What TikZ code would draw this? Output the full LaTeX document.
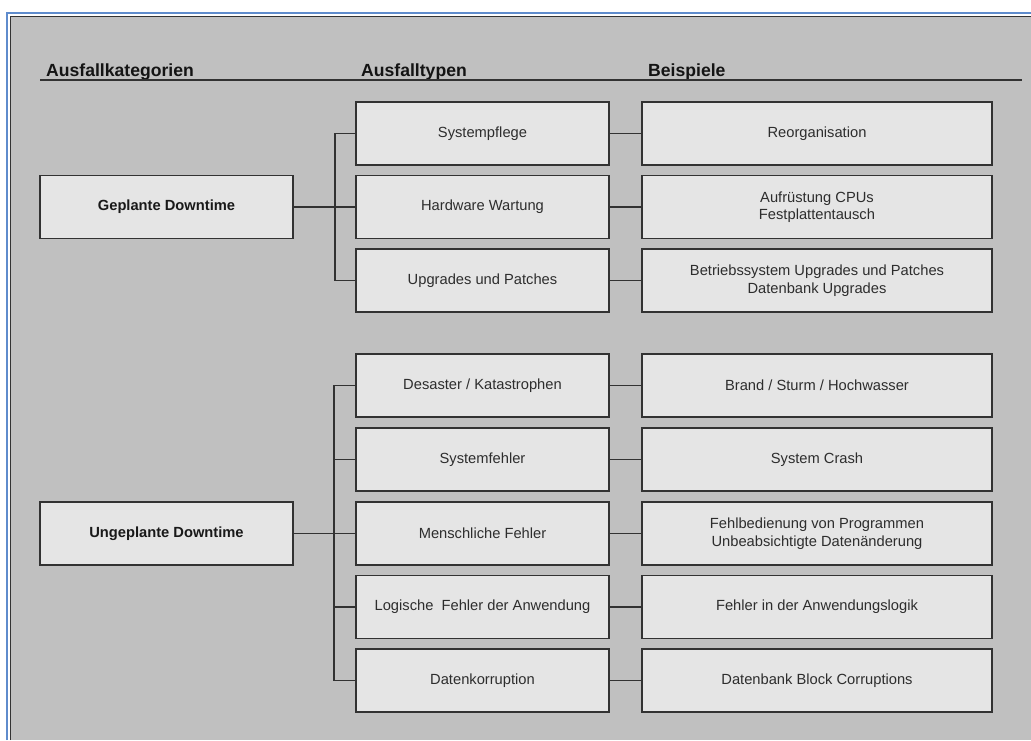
\documentclass[tikz,border=0pt]{standalone}
\usepackage{fontspec}
\setmainfont{Liberation Sans}
\definecolor{bg}{RGB}{192,192,192}
\definecolor{boxfill}{RGB}{229,229,229}
\definecolor{boxline}{RGB}{50,50,50}
\definecolor{txt}{RGB}{45,45,45}
\definecolor{frameblue}{RGB}{95,140,205}
\begin{document}
\begin{tikzpicture}[x=1pt,y=-1pt,
  boxbase/.style={draw=boxline,fill=boxfill,line width=1.3pt,rectangle,inner sep=0pt,
    minimum height=63pt,align=center,text=txt,font=\fontsize{14.7}{17.6}\selectfont},
  catbox/.style={boxbase,minimum width=253pt,font=\fontsize{14.7}{17.6}\selectfont\bfseries,text=black!90},
  typebox/.style={boxbase,minimum width=253pt},
  exbox/.style={boxbase,minimum width=350pt},
  head/.style={anchor=base west,inner sep=0pt,font=\fontsize{17.6}{20}\selectfont\bfseries,text=black!92},
  conn/.style={draw=boxline,line width=1.3pt}]
\useasboundingbox (0,0) rectangle (1031,740);
% frame
\fill[white] (0,0) rectangle (1031,740);
\fill[bg] (10,16) rectangle (1031,740);
\draw[frameblue,line width=1.6pt] (7,740) -- (7,13) -- (1031,13);
\draw[black!80,line width=1.2pt] (10.5,740) -- (10.5,16.5) -- (1031,16.5);
% headers
\node[head] (h1) at (46,76) {Ausfallkategorien};
\node[head] (h2) at (361,76) {Ausfalltypen};
\node[head] (h3) at (648,76) {Beispiele};
\draw[boxline,line width=1.4pt] (40,80) -- (1022,80);
% categories
\node[catbox] (g) at (166.5,207) {Geplante Downtime};
\node[catbox] (u) at (166.5,533.5) {Ungeplante Downtime};
% types
\node[typebox] (t1) at (482.5,133.5) {Systempflege};
\node[typebox] (t2) at (482.5,207) {Hardware Wartung};
\node[typebox] (t3) at (482.5,280.5) {Upgrades und Patches};
\node[typebox] (t4) at (482.5,385.5) {Desaster / Katastrophen};
\node[typebox] (t5) at (482.5,459.5) {Systemfehler};
\node[typebox] (t6) at (482.5,533.5) {Menschliche Fehler};
\node[typebox] (t7) at (482.5,607) {Logische\ \ Fehler der Anwendung};
\node[typebox] (t8) at (482.5,680.5) {Datenkorruption};
% examples
\node[exbox] (e1) at (817,133.5) {Reorganisation};
\node[exbox] (e2) at (817,207) {Aufrüstung CPUs\\Festplattentausch};
\node[exbox] (e3) at (817,280.5) {Betriebssystem Upgrades und Patches\\Datenbank Upgrades};
\node[exbox] (e4) at (817,385.5) {Brand / Sturm / Hochwasser};
\node[exbox] (e5) at (817,459.5) {System Crash};
\node[exbox] (e6) at (817,533.5) {Fehlbedienung von Programmen\\Unbeabsichtigte Datenänderung};
\node[exbox] (e7) at (817,607) {Fehler in der Anwendungslogik};
\node[exbox] (e8) at (817,680.5) {Datenbank Block Corruptions};
% brackets
\coordinate (b1) at (335,0);
\coordinate (b2) at (334,0);
\draw[conn] (t1.west) -- (t1.west -| b1) |- (t3.west);
\draw[conn] (g.east) -- (g.east -| b1);
\draw[conn] (t2.west) -- (t2.west -| b1);
\draw[conn] (t4.west) -- (t4.west -| b2) |- (t8.west);
\draw[conn] (u.east) -- (u.east -| b2);
\draw[conn] (t5.west) -- (t5.west -| b2);
\draw[conn] (t6.west) -- (t6.west -| b2);
\draw[conn] (t7.west) -- (t7.west -| b2);
% type to example
\foreach \i in {1,...,8} {\draw[conn] (t\i.east) -- (e\i.west);}
\end{tikzpicture}
\end{document}
